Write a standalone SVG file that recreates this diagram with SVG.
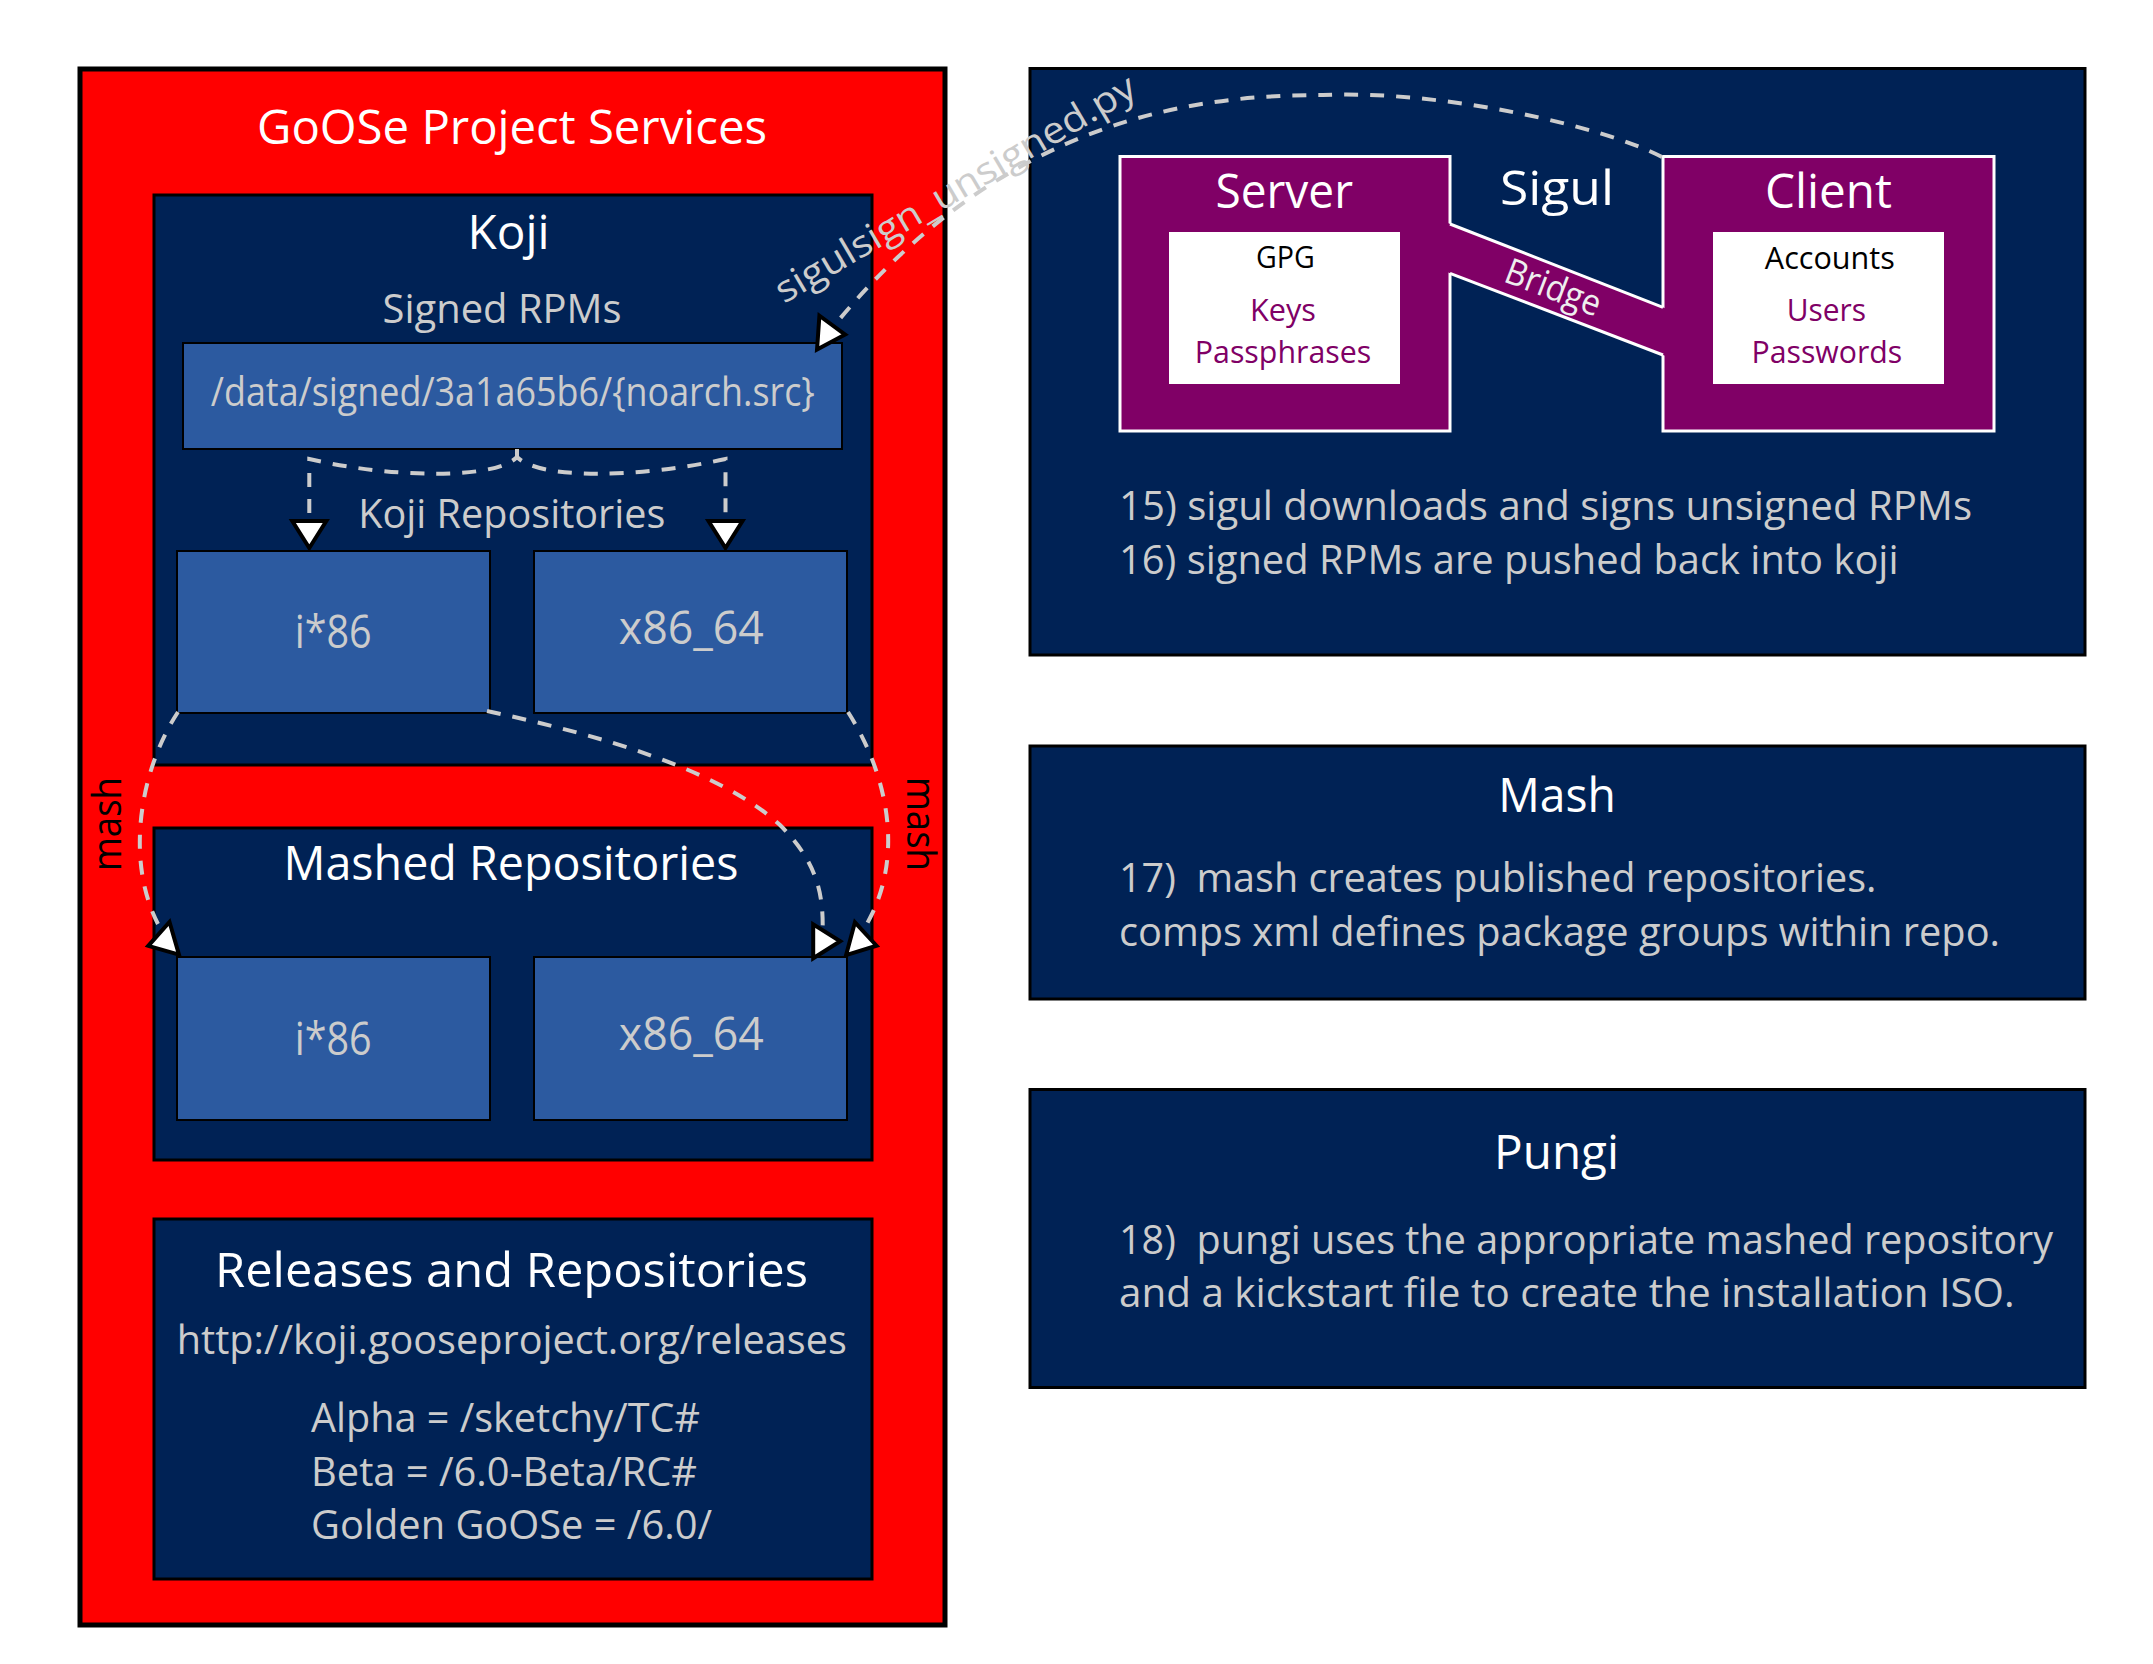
<svg xmlns="http://www.w3.org/2000/svg" width="2153" height="1664" viewBox="0 0 2153 1664">
<style>
text{font-family:"Open Sans","Noto Sans","DejaVu Sans",sans-serif;}
.navy{fill:#002255;stroke:#000;stroke-width:3;}
.blue{fill:#2c5aa0;stroke:#000;stroke-width:2;}
.purp{fill:#800066;stroke:#fff;stroke-width:3;}
.inner{fill:#fff;stroke:none;}
.h1{fill:#fff;font-size:48px;text-anchor:middle;}
.h2{fill:#ccc;font-size:41px;text-anchor:middle;}
.arch{fill:#ccc;font-size:46px;text-anchor:middle;}
.body{fill:#ccc;font-size:41px;white-space:pre;}
.sm{font-size:31px;text-anchor:middle;}
.blk{fill:#000;}
.pt{fill:#800066;}
.dash{fill:none;stroke:#ccc;stroke-width:4;stroke-dasharray:14 12;marker-end:url(#arrow);}
.lbl{fill:#000;font-size:41px;text-anchor:middle;}
</style>
<defs>
<marker id="arrow" markerUnits="userSpaceOnUse" viewBox="-25 -25 50 50" markerWidth="50" markerHeight="50" refX="0" refY="0" orient="auto" overflow="visible">
<path d="M18,0 L-9,-17 L-9,17 Z" fill="#fff" stroke="#000" stroke-width="4" stroke-linejoin="miter"/>
</marker>
</defs>
<rect width="2153" height="1664" fill="#fff"/>

<g id="goose-services">
<rect x="80" y="69" width="865" height="1556" fill="#ff0000" stroke="#000" stroke-width="5"/>
<text class="h1" x="512" y="144" textLength="510" lengthAdjust="spacingAndGlyphs">GoOSe Project Services</text>
</g>

<g id="koji">
<rect class="navy" x="154" y="195" width="718" height="570" stroke-width="4"/>
<text class="h1" x="508.6" y="248.5" textLength="82" lengthAdjust="spacingAndGlyphs">Koji</text>
<text class="h2" x="502" y="323" textLength="239" lengthAdjust="spacingAndGlyphs">Signed RPMs</text>
<text class="h2" x="511.8" y="528" textLength="307" lengthAdjust="spacingAndGlyphs">Koji Repositories</text>
</g>
<g id="koji-signed">
<rect class="blue" x="183" y="343" width="659" height="106"/>
<text class="h2" x="512.8" y="405.6" textLength="604" lengthAdjust="spacingAndGlyphs">/data/signed/3a1a65b6/{noarch.src}</text>
</g>
<g id="koji-i86">
<rect class="blue" x="177" y="551" width="313" height="162"/>
<text class="arch" x="333.2" y="648" textLength="77" lengthAdjust="spacingAndGlyphs">i*86</text>
</g>
<g id="koji-x86_64">
<rect class="blue" x="534" y="551" width="313" height="162"/>
<text class="arch" x="691.3" y="644" textLength="145" lengthAdjust="spacingAndGlyphs">x86_64</text>
</g>

<g id="mashed">
<rect class="navy" x="154" y="828" width="718" height="332" stroke-width="4"/>
<text class="h1" x="511" y="880" textLength="455" lengthAdjust="spacingAndGlyphs">Mashed Repositories</text>
</g>
<g id="mashed-i86">
<rect class="blue" x="177" y="957" width="313" height="163"/>
<text class="arch" x="333.2" y="1055" textLength="77" lengthAdjust="spacingAndGlyphs">i*86</text>
</g>
<g id="mashed-x86_64">
<rect class="blue" x="534" y="957" width="313" height="163"/>
<text class="arch" x="691.3" y="1050" textLength="145" lengthAdjust="spacingAndGlyphs">x86_64</text>
</g>

<g id="releases">
<rect class="navy" x="154" y="1219" width="718" height="360" stroke-width="4"/>
<text class="h1" x="511.5" y="1287" textLength="593" lengthAdjust="spacingAndGlyphs">Releases and Repositories</text>
<text class="h2" x="511.8" y="1353.5" textLength="670" lengthAdjust="spacingAndGlyphs">http://koji.gooseproject.org/releases</text>
<text class="body" x="311" y="1431.6" textLength="389" lengthAdjust="spacingAndGlyphs">Alpha = /sketchy/TC#</text>
<text class="body" x="311" y="1485.7" textLength="386" lengthAdjust="spacingAndGlyphs">Beta = /6.0-Beta/RC#</text>
<text class="body" x="311" y="1539" textLength="401" lengthAdjust="spacingAndGlyphs">Golden GoOSe = /6.0/</text>
</g>

<g id="sigul">
<rect class="navy" x="1030" y="68.5" width="1055" height="586.5"/>
<text class="h1" x="1557" y="204.5" textLength="114" lengthAdjust="spacingAndGlyphs">Sigul</text>
<text class="body" x="1119" y="520" textLength="853" lengthAdjust="spacingAndGlyphs">15) sigul downloads and signs unsigned RPMs</text>
<text class="body" x="1119" y="573.7" textLength="779.5" lengthAdjust="spacingAndGlyphs">16) signed RPMs are pushed back into koji</text>
</g>
<g id="sigul-server">
<rect class="purp" x="1120" y="156.5" width="330" height="274.5"/>
</g>
<g id="sigul-client">
<rect class="purp" x="1663" y="156.5" width="331" height="274.5"/>
</g>
<g id="sigul-bridge">
<polygon points="1447,222.8 1667,308.9 1667,356.6 1447,272.1" fill="#800066"/>
<line x1="1450" y1="224" x2="1663" y2="307.3" stroke="#fff" stroke-width="3"/>
<line x1="1450" y1="273.3" x2="1663" y2="355" stroke="#fff" stroke-width="3"/>
<text transform="translate(1549,299) rotate(21)" fill="#eee" font-size="36" text-anchor="middle" textLength="100" lengthAdjust="spacingAndGlyphs">Bridge</text>
</g>
<g id="sigul-server-content">
<rect class="inner" x="1169" y="232" width="231" height="152"/>
<text class="h1" x="1284.2" y="207.6" textLength="137.5" lengthAdjust="spacingAndGlyphs">Server</text>
<text class="sm blk" x="1285.4" y="268" textLength="58.8" lengthAdjust="spacingAndGlyphs">GPG</text>
<text class="sm pt" x="1283" y="320.5" textLength="66" lengthAdjust="spacingAndGlyphs">Keys</text>
<text class="sm pt" x="1283" y="362.5" textLength="176.5" lengthAdjust="spacingAndGlyphs">Passphrases</text>
</g>
<g id="sigul-client-content">
<rect class="inner" x="1713" y="232" width="231" height="152"/>
<text class="h1" x="1828.4" y="207.6" textLength="127" lengthAdjust="spacingAndGlyphs">Client</text>
<text class="sm blk" x="1829.8" y="269" textLength="130" lengthAdjust="spacingAndGlyphs">Accounts</text>
<text class="sm pt" x="1826.4" y="320.5" textLength="79.4" lengthAdjust="spacingAndGlyphs">Users</text>
<text class="sm pt" x="1826.9" y="362.5" textLength="150.7" lengthAdjust="spacingAndGlyphs">Passwords</text>
</g>

<g id="mash">
<rect class="navy" x="1030" y="746" width="1055" height="253"/>
<text class="h1" x="1557" y="811.6" textLength="117.6" lengthAdjust="spacingAndGlyphs">Mash</text>
<text class="body" x="1119" y="892" textLength="757.4" lengthAdjust="spacingAndGlyphs">17)  mash creates published repositories.</text>
<text class="body" x="1119" y="945.5" textLength="881" lengthAdjust="spacingAndGlyphs">comps xml defines package groups within repo.</text>
</g>

<g id="pungi">
<rect class="navy" x="1030" y="1089.5" width="1055" height="298"/>
<text class="h1" x="1556.5" y="1168.75" textLength="125" lengthAdjust="spacingAndGlyphs">Pungi</text>
<text class="body" x="1119" y="1253.6" textLength="934" lengthAdjust="spacingAndGlyphs">18)  pungi uses the appropriate mashed repository</text>
<text class="body" x="1119" y="1307" textLength="895.6" lengthAdjust="spacingAndGlyphs">and a kickstart file to create the installation ISO.</text>
</g>

<g id="connectors">
<path class="dash" d="M1662,157 C1600,125 1440,90 1323,95 C1200,95 1010,115 838,321 L826.2,333.2 l1,0.07"/>
<path class="dash" d="M517,449 L517,457 C495,480 390,478 309.3,459 L309.3,530"/>
<path class="dash" d="M517,449 L517,457 C540,480 640,478 725.5,459 L725.5,530"/>
<path class="dash" d="M178,712 C140,770 125,860 158,924 L166.6,940.5 l-1,0.29"/>
<path class="dash" d="M487,711 C600,735 720,770 780,825 C815,860 822.7,890 822.7,925 L821.2,941.3 l1,0"/>
<path class="dash" d="M848,712 C885,770 905,850 870,918 L858.2,940.8 l1,0.27"/>
<text transform="translate(784,304) rotate(-30.5)" fill="#ccc" font-size="37" textLength="412" lengthAdjust="spacingAndGlyphs">sigulsign_unsigned.py</text>
<text class="lbl" transform="translate(121,824) rotate(-90)" textLength="94" lengthAdjust="spacingAndGlyphs">mash</text>
<text class="lbl" transform="translate(907,824) rotate(90)" textLength="94" lengthAdjust="spacingAndGlyphs">mash</text>
</g>
</svg>
